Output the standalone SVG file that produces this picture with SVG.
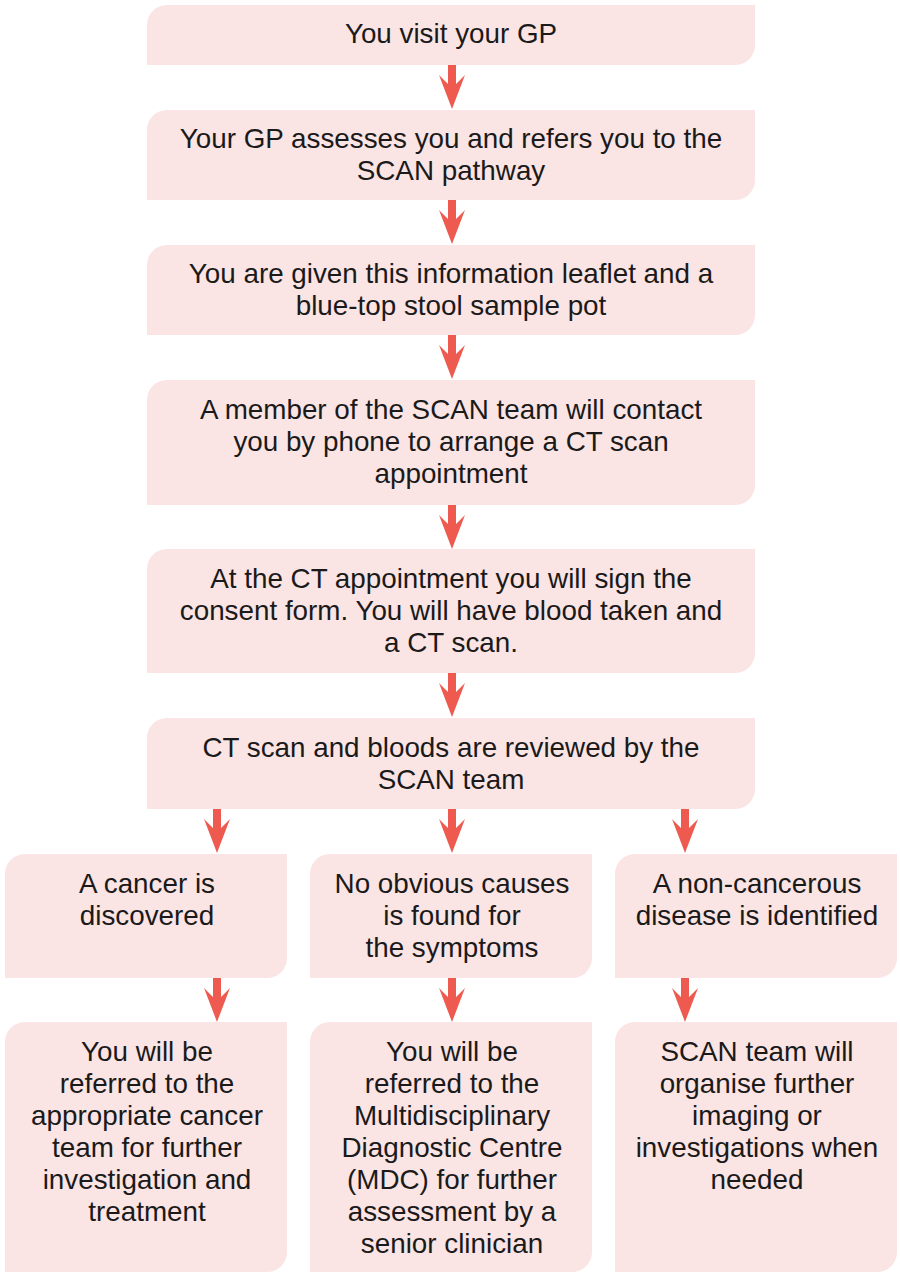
<svg xmlns="http://www.w3.org/2000/svg" width="900" height="1274" viewBox="0 0 900 1274">
<style>
.box{fill:#fbe4e4}
.t{font-family:"Liberation Sans",Arial,sans-serif;font-size:27.8px;fill:#1a1a1a;text-anchor:middle}
.arr{fill:#ee5a50}
</style>
<defs>
<path id="ah" d="M-4,0 H4 V19 L13,10 L0,44 L-13,10 L-4,19 Z"/>
</defs>
<rect width="900" height="1274" fill="#ffffff"/>
<g id="n1"><path class="box" d="M147,25 A20,20 0 0 1 167,5 H755 V45 A20,20 0 0 1 735,65 H147 Z"/>
<text class="t" x="451" y="43">You visit your GP</text></g>
<g id="n2"><path class="box" d="M147,130 A20,20 0 0 1 167,110 H755 V180 A20,20 0 0 1 735,200 H147 Z"/>
<text class="t" x="451" y="148">Your GP assesses you and refers you to the</text>
<text class="t" x="451" y="180">SCAN pathway</text></g>
<g id="n3"><path class="box" d="M147,265 A20,20 0 0 1 167,245 H755 V315 A20,20 0 0 1 735,335 H147 Z"/>
<text class="t" x="451" y="283">You are given this information leaflet and a</text>
<text class="t" x="451" y="315">blue-top stool sample pot</text></g>
<g id="n4"><path class="box" d="M147,400 A20,20 0 0 1 167,380 H755 V485 A20,20 0 0 1 735,505 H147 Z"/>
<text class="t" x="451" y="419">A member of the SCAN team will contact</text>
<text class="t" x="451" y="451">you by phone to arrange a CT scan</text>
<text class="t" x="451" y="483">appointment</text></g>
<g id="n5"><path class="box" d="M147,569 A20,20 0 0 1 167,549 H755 V653 A20,20 0 0 1 735,673 H147 Z"/>
<text class="t" x="451" y="588">At the CT appointment you will sign the</text>
<text class="t" x="451" y="620">consent form. You will have blood taken and</text>
<text class="t" x="451" y="652">a CT scan.</text></g>
<g id="n6"><path class="box" d="M147,738 A20,20 0 0 1 167,718 H755 V789 A20,20 0 0 1 735,809 H147 Z"/>
<text class="t" x="451" y="757">CT scan and bloods are reviewed by the</text>
<text class="t" x="451" y="789">SCAN team</text></g>
<g id="n7"><path class="box" d="M5,874 A20,20 0 0 1 25,854 H287 V958 A20,20 0 0 1 267,978 H5 Z"/>
<text class="t" x="147" y="893">A cancer is</text>
<text class="t" x="147" y="925">discovered</text></g>
<g id="n8"><path class="box" d="M310,874 A20,20 0 0 1 330,854 H592 V958 A20,20 0 0 1 572,978 H310 Z"/>
<text class="t" x="452" y="893">No obvious causes</text>
<text class="t" x="452" y="925">is found for</text>
<text class="t" x="452" y="957">the symptoms</text></g>
<g id="n9"><path class="box" d="M615,874 A20,20 0 0 1 635,854 H897 V958 A20,20 0 0 1 877,978 H615 Z"/>
<text class="t" x="757" y="893">A non-cancerous</text>
<text class="t" x="757" y="925">disease is identified</text></g>
<g id="n10"><path class="box" d="M5,1042 A20,20 0 0 1 25,1022 H287 V1252 A20,20 0 0 1 267,1272 H5 Z"/>
<text class="t" x="147" y="1061">You will be</text>
<text class="t" x="147" y="1093">referred to the</text>
<text class="t" x="147" y="1125">appropriate cancer</text>
<text class="t" x="147" y="1157">team for further</text>
<text class="t" x="147" y="1189">investigation and</text>
<text class="t" x="147" y="1221">treatment</text></g>
<g id="n11"><path class="box" d="M310,1042 A20,20 0 0 1 330,1022 H592 V1252 A20,20 0 0 1 572,1272 H310 Z"/>
<text class="t" x="452" y="1061">You will be</text>
<text class="t" x="452" y="1093">referred to the</text>
<text class="t" x="452" y="1125">Multidisciplinary</text>
<text class="t" x="452" y="1157">Diagnostic Centre</text>
<text class="t" x="452" y="1189">(MDC) for further</text>
<text class="t" x="452" y="1221">assessment by a</text>
<text class="t" x="452" y="1253">senior clinician</text></g>
<g id="n12"><path class="box" d="M615,1042 A20,20 0 0 1 635,1022 H897 V1252 A20,20 0 0 1 877,1272 H615 Z"/>
<text class="t" x="757" y="1061">SCAN team will</text>
<text class="t" x="757" y="1093">organise further</text>
<text class="t" x="757" y="1125">imaging or</text>
<text class="t" x="757" y="1157">investigations when</text>
<text class="t" x="757" y="1189">needed</text></g>
<g id="connectors" class="arr">
<use href="#ah" x="452" y="65"/>
<use href="#ah" x="452" y="200"/>
<use href="#ah" x="452" y="335"/>
<use href="#ah" x="452" y="505"/>
<use href="#ah" x="452" y="673"/>
<use href="#ah" x="217" y="809"/>
<use href="#ah" x="452" y="809"/>
<use href="#ah" x="685" y="809"/>
<use href="#ah" x="217" y="978"/>
<use href="#ah" x="452" y="978"/>
<use href="#ah" x="685" y="978"/>
</g>
</svg>
